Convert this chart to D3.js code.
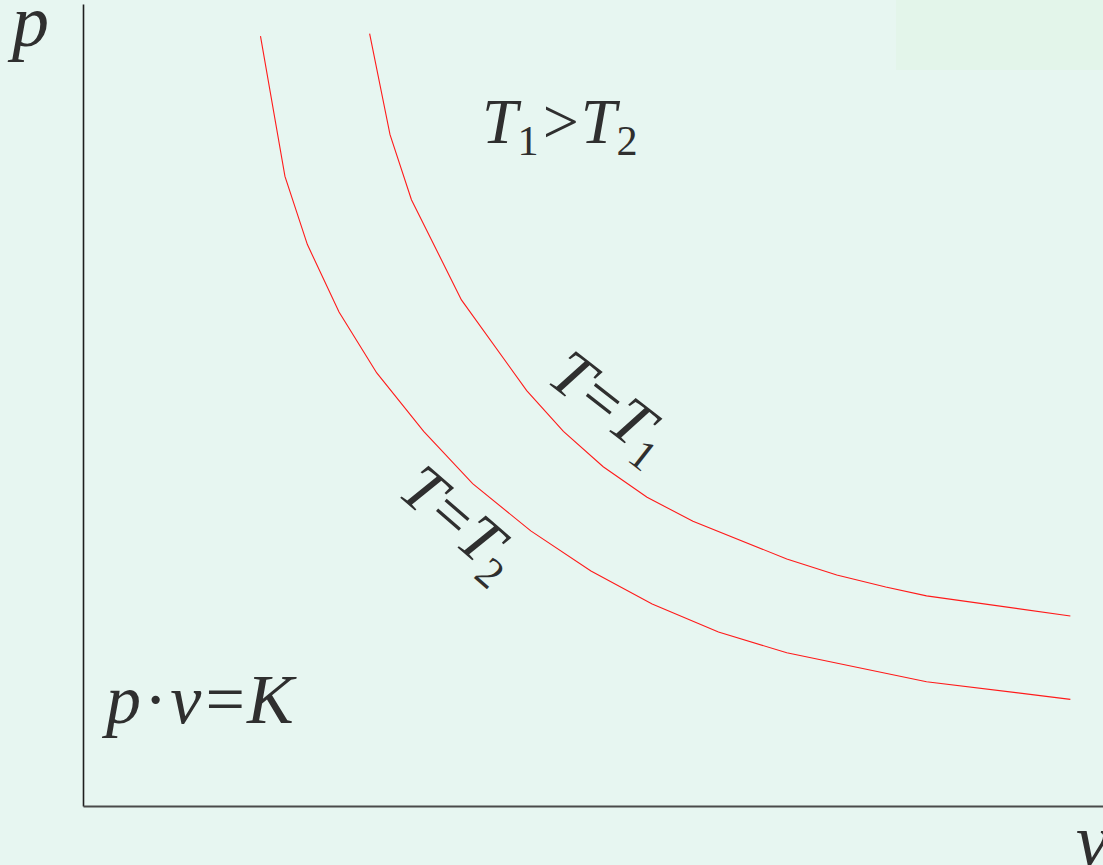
<!DOCTYPE html>
<html>
<head>
<meta charset="utf-8">
<script src="https://cdn.jsdelivr.net/npm/d3@7"></script>
<style>
  html, body { margin: 0; padding: 0; background: #e7f6f1; }
  svg { display: block; }
  .math { font-family: "Liberation Serif", "Times New Roman", serif; fill: #2f2f2f; }
  .it { font-style: italic; }
</style>
</head>
<body>
<svg id="chart" width="1103" height="865"></svg>
<script>
// Isotherms of an ideal gas in the p–v plane (arbitrary units)
const vT1 = [2.81, 3.01, 3.22, 3.71, 4.35, 4.71, 5.10, 5.53, 5.98, 6.90, 7.39, 7.87, 8.27, 9.68];
const pT1 = [9.63, 8.37, 7.56, 6.31, 5.18, 4.67, 4.23, 3.85, 3.55, 3.08, 2.88, 2.73, 2.62, 2.37];
const vT2 = [1.74, 1.98, 2.20, 2.51, 2.88, 3.34, 3.82, 4.39, 4.98, 5.58, 6.23, 6.90, 8.27, 9.68];
const pT2 = [9.60, 7.85, 7.00, 6.16, 5.40, 4.67, 4.02, 3.43, 2.93, 2.52, 2.17, 1.91, 1.55, 1.33];

const vDomain = [0, 10];
const pDomain = [0, 10];

const W = 1103, H = 865;
const svg = d3.select("#chart");

// background and the faint panel in the upper-right corner
svg.append("rect").attr("x", 0).attr("y", 0).attr("width", W).attr("height", H).attr("fill", "#e7f6f1");
svg.append("rect").attr("x", 896).attr("y", 0).attr("width", W - 896).attr("height", 70).attr("fill", "#e3f5ea");

const x = d3.scaleLinear().domain(vDomain).range([83, 1103]);
const y = d3.scaleLinear().domain(pDomain).range([806, 4]);

// axes: bare lines, no ticks
const yAxis = svg.append("g").attr("transform", `translate(${x(0)},0)`)
  .call(d3.axisLeft(y).tickValues([]).tickSizeOuter(0));
yAxis.select(".domain").attr("stroke", "#1e1e1e").attr("stroke-width", 1.6);

const xAxis = svg.append("g").attr("transform", `translate(0,${y(0)})`)
  .call(d3.axisBottom(x).tickValues([]).tickSizeOuter(0));
xAxis.select(".domain").attr("stroke", "#4a4a4a").attr("stroke-width", 2);

// isotherm curves
const line = d3.line().x(d => x(d[0])).y(d => y(d[1]));
const curves = [
  d3.zip(vT1, pT1),
  d3.zip(vT2, pT2)
];
svg.selectAll("path.iso").data(curves).join("path")
  .attr("class", "iso")
  .attr("d", line)
  .attr("fill", "none")
  .attr("stroke", "#ff1a1a")
  .attr("stroke-width", 1.1);

// helper for math-style text made of italic / upright / subscript pieces
function mathText(g, parts, size) {
  const t = g.append("text").attr("class", "math").attr("font-size", size);
  parts.forEach(p => {
    const s = t.append("tspan").text(p.s);
    if (p.it) s.attr("class", "it");
    if (p.sub) s.attr("font-size", size * 0.66).attr("dy", size * 0.19);
    if (p.up) s.attr("dy", -size * 0.19);
    if (p.dx) s.attr("dx", p.dx);
  });
  return t;
}

const FS = 64;

// axis names
mathText(svg.append("g").attr("transform", "translate(12,46)"), [{s: "p", it: true}], 74);
mathText(svg.append("g").attr("transform", "translate(1076,865)"), [{s: "v", it: true}], 74);

// relation between the two temperatures
mathText(svg.append("g").attr("transform", "translate(482,143)"), [
  {s: "T", it: true}, {s: "1", sub: true}, {s: ">", up: true, dx: 4}, {s: "T", it: true, dx: 2}, {s: "2", sub: true}
], FS);

// Boyle's law
mathText(svg.append("g").attr("transform", "translate(106,723)"), [
  {s: "p", it: true}, {s: "·", dx: 3}, {s: "v", it: true, dx: 3}, {s: "=", dx: 4}, {s: "K", it: true, dx: 2}
], 70);

// curve labels along the isotherms
mathText(svg.append("g").attr("transform", "translate(545,381) rotate(38)"), [
  {s: "T", it: true}, {s: "=", dx: 2}, {s: "T", it: true, dx: 1}, {s: "1", sub: true}
], 65);
mathText(svg.append("g").attr("transform", "translate(396,494) rotate(41)"), [
  {s: "T", it: true}, {s: "=", dx: 2}, {s: "T", it: true, dx: 1}, {s: "2", sub: true}
], 65);
</script>
</body>
</html>
